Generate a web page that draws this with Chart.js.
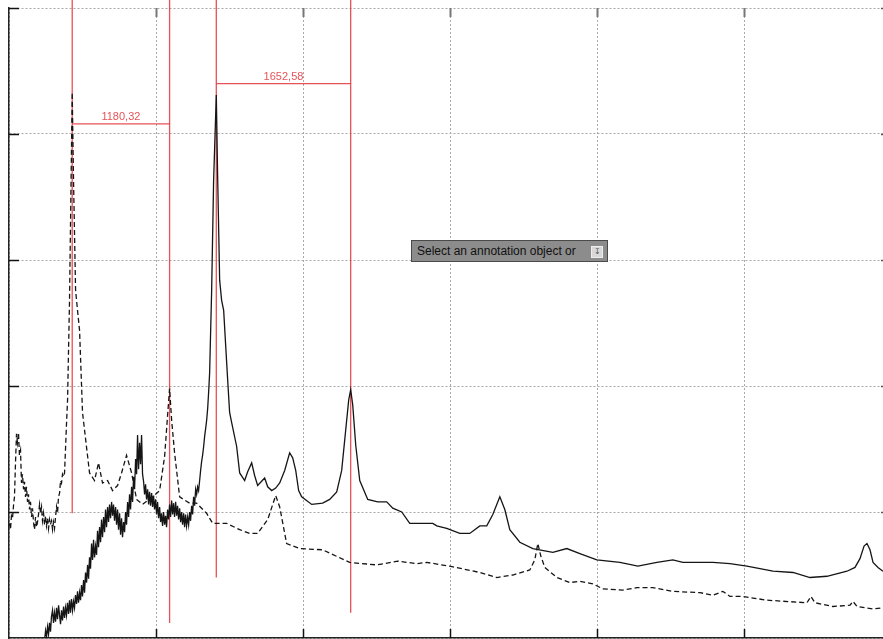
<!DOCTYPE html>
<html lang="en">
<head>
    <meta charset="UTF-8">
    <title>Spectrum</title>
    <script src="https://cdn.jsdelivr.net/npm/chart.js"></script>
    <style>
        body {
            margin: 0;
            background: #fff;
        }

        .wrap {
            position: relative;
            width: 883px;
            height: 639px;
        }

        .hint {
            position: absolute;
            left: 411px;
            top: 240px;
            width: 197px;
            height: 22px;
            background: #8c8c8c;
            border: 1px solid #4a4a4a;
            font: 12px "Liberation Sans", Arial, sans-serif;
            color: #111;
            line-height: 20px;
            padding-left: 5px;
            box-sizing: border-box;
        }

        .hint span {
            position: absolute;
            right: 4px;
            top: 5px;
            width: 10px;
            height: 10px;
            background: #d8d8d8;
            border: 1px solid #eee;
            font-size: 8px;
            line-height: 10px;
            text-align: center;
            color: #555;
        }
    </style>
</head>
<body>
    <div class="wrap">
        <canvas id="spec" width="883" height="639"></canvas>
        <div class="hint">Select an annotation object or<span>&#8615;</span></div>
    </div>

    <script>
        // dashed spectrum
        const dashedX = [6, 18, 30, 43, 55, 67, 80, 92, 104, 116, 128, 141, 153, 165, 178, 190, 202, 214, 227, 239, 251, 263, 276, 288, 300, 312, 325, 337, 349, 361, 374, 386, 398, 410, 423, 435, 447, 459, 472, 484, 496, 508, 521, 533, 545, 557, 570, 582, 594, 606, 619, 631, 643, 655, 668, 680, 692, 704, 717, 741, 760, 774, 790, 815, 839, 864, 900, 925, 986, 1047, 1096, 1145, 1207, 1268, 1329, 1378, 1439, 1501, 1562, 1635, 1758, 1844, 1905, 1942, 1966, 1991, 2027, 2089, 2211, 2297, 2419, 2493, 2664, 2824, 2946, 3044, 3167, 3265, 3314, 3399, 3559, 3840, 4171, 4502, 4759, 4992, 5114, 5396, 5764, 5972, 6168, 6376, 6437, 6474, 6511, 6560, 6707, 6866, 6989, 7148, 7270, 7515, 7687, 7883, 8128, 8459, 8618, 8740, 8826, 8985, 9279, 9769, 9818, 9867, 10088, 10296, 10333, 10382, 10578, 10700];
        const dashedY = [0.91, 0.86, 0.97, 0.95, 1.05, 1.12, 1.40, 1.62, 1.55, 1.63, 1.45, 1.49, 1.23, 1.30, 1.18, 1.24, 1.12, 1.20, 1.08, 1.14, 1.02, 1.08, 0.96, 1.03, 0.92, 0.86, 0.96, 0.88, 0.92, 0.98, 1.06, 0.99, 1.04, 0.93, 0.99, 0.90, 0.97, 0.89, 0.95, 0.87, 0.94, 0.90, 0.93, 0.86, 0.92, 0.87, 0.96, 1.04, 0.99, 1.12, 1.15, 1.25, 1.23, 1.30, 1.28, 1.31, 1.50, 1.70, 1.89, 2.68, 3.63, 4.33, 3.63, 2.76, 2.60, 2.44, 1.79, 1.65, 1.31, 1.25, 1.39, 1.23, 1.25, 1.17, 1.21, 1.31, 1.45, 1.31, 1.10, 1.06, 1.12, 1.17, 1.44, 1.77, 1.98, 1.73, 1.47, 1.12, 1.07, 1.07, 0.99, 0.91, 0.91, 0.86, 0.83, 0.83, 0.94, 1.13, 1.04, 0.75, 0.71, 0.70, 0.60, 0.58, 0.61, 0.59, 0.60, 0.57, 0.52, 0.48, 0.50, 0.54, 0.62, 0.75, 0.65, 0.56, 0.48, 0.44, 0.45, 0.43, 0.39, 0.38, 0.40, 0.40, 0.37, 0.36, 0.34, 0.37, 0.33, 0.33, 0.30, 0.28, 0.33, 0.28, 0.25, 0.26, 0.29, 0.25, 0.23, 0.24];

        // solid spectrum
        const solidX = [435, 448, 460, 472, 484, 496, 508, 520, 533, 545, 557, 570, 582, 594, 607, 619, 631, 643, 655, 668, 680, 692, 704, 716, 729, 741, 753, 765, 778, 790, 802, 814, 827, 839, 851, 864, 876, 888, 900, 913, 925, 937, 950, 962, 974, 986, 998, 1011, 1023, 1035, 1047, 1060, 1072, 1084, 1096, 1109, 1121, 1133, 1145, 1158, 1170, 1182, 1194, 1207, 1219, 1231, 1243, 1256, 1268, 1280, 1292, 1305, 1317, 1329, 1341, 1354, 1366, 1378, 1390, 1403, 1415, 1427, 1439, 1452, 1464, 1476, 1488, 1501, 1513, 1525, 1537, 1550, 1562, 1574, 1586, 1599, 1611, 1623, 1635, 1648, 1660, 1672, 1684, 1697, 1709, 1721, 1733, 1746, 1758, 1770, 1782, 1795, 1807, 1819, 1831, 1844, 1856, 1868, 1880, 1893, 1905, 1917, 1929, 1942, 1954, 1966, 1978, 1991, 2003, 2015, 2027, 2040, 2052, 2064, 2076, 2089, 2101, 2113, 2125, 2138, 2150, 2162, 2174, 2187, 2199, 2211, 2223, 2236, 2248, 2260, 2272, 2285, 2297, 2309, 2321, 2334, 2346, 2358, 2370, 2383, 2395, 2407, 2420, 2432, 2444, 2456, 2481, 2505, 2538, 2554, 2579, 2603, 2628, 2652, 2677, 2701, 2726, 2787, 2824, 2885, 2922, 2971, 3007, 3044, 3130, 3167, 3216, 3265, 3314, 3375, 3436, 3473, 3510, 3546, 3583, 3706, 3840, 3926, 4012, 4073, 4122, 4159, 4183, 4208, 4245, 4294, 4392, 4514, 4624, 4698, 4808, 4906, 5065, 5188, 5237, 5359, 5519, 5641, 5764, 5849, 5923, 6009, 6070, 6131, 6254, 6413, 6658, 6829, 6989, 7197, 7479, 7699, 7932, 8128, 8250, 8618, 8826, 9034, 9353, 9598, 9806, 10014, 10259, 10357, 10418, 10468, 10504, 10541, 10578, 10639, 10700];
        const solidY = [-0.02, 0.06, 0.01, 0.09, 0.03, 0.12, 0.05, 0.17, 0.22, 0.12, 0.20, 0.13, 0.24, 0.15, 0.26, 0.18, 0.11, 0.22, 0.14, 0.25, 0.16, 0.24, 0.18, 0.28, 0.19, 0.30, 0.20, 0.31, 0.22, 0.29, 0.24, 0.34, 0.27, 0.37, 0.28, 0.36, 0.30, 0.42, 0.33, 0.46, 0.36, 0.52, 0.44, 0.58, 0.47, 0.64, 0.55, 0.75, 0.62, 0.78, 0.64, 0.73, 0.66, 0.85, 0.72, 0.88, 0.76, 0.94, 0.80, 0.96, 0.84, 1.02, 0.88, 1.04, 0.92, 1.06, 0.95, 1.08, 0.97, 1.06, 0.93, 1.04, 0.90, 1.02, 0.86, 0.99, 0.82, 0.95, 0.80, 0.92, 0.84, 1.00, 0.90, 1.08, 0.96, 1.14, 1.02, 1.20, 1.08, 1.28, 1.18, 1.42, 1.30, 1.61, 1.34, 1.55, 1.38, 1.61, 1.30, 1.24, 1.14, 1.22, 1.10, 1.18, 1.06, 1.16, 1.05, 1.15, 1.04, 1.13, 1.02, 1.10, 0.98, 1.08, 0.95, 1.04, 0.92, 0.99, 0.89, 1.00, 0.90, 0.97, 0.88, 1.02, 0.94, 1.06, 0.96, 1.09, 0.98, 1.07, 0.96, 1.08, 0.97, 1.05, 0.94, 1.03, 0.92, 1.00, 0.90, 0.99, 0.88, 0.98, 0.89, 0.96, 0.90, 1.00, 0.93, 1.05, 0.98, 1.12, 1.05, 1.18, 1.14, 1.20, 1.17, 1.25, 1.33, 1.40, 1.45, 1.52, 1.60, 1.66, 1.73, 1.82, 1.95, 2.10, 2.76, 3.63, 4.31, 3.67, 2.84, 2.68, 2.60, 2.33, 2.05, 1.79, 1.71, 1.52, 1.31, 1.25, 1.32, 1.39, 1.29, 1.21, 1.27, 1.20, 1.17, 1.19, 1.23, 1.33, 1.47, 1.43, 1.33, 1.17, 1.12, 1.06, 1.07, 1.10, 1.16, 1.33, 1.65, 1.89, 1.97, 1.85, 1.53, 1.25, 1.10, 1.08, 1.08, 1.03, 1.00, 0.91, 0.91, 0.91, 0.89, 0.87, 0.83, 0.83, 0.89, 0.89, 0.98, 1.12, 1.02, 0.86, 0.76, 0.71, 0.68, 0.71, 0.67, 0.62, 0.60, 0.57, 0.60, 0.62, 0.60, 0.60, 0.59, 0.57, 0.53, 0.52, 0.48, 0.49, 0.53, 0.56, 0.63, 0.73, 0.75, 0.70, 0.60, 0.56, 0.53];

        // red cursors and the spans measured between them
        const cursorX = [774, 1966, 2538, 4183];
        const cursorBottom = [0.99, 0.12, 0.48, 0.20];
        const cursorTop = 5.1;
        const spanLevel = [4.08, 4.40];
        const spanLabels = ['1180,32', '1652,58'];

        // axis ticks (labels are not shown on the original)
        const xTicks = [0, 1800, 3600, 5400, 7200, 9000];
        const yTicks = [0, 1, 2, 3, 4, 5];
        const xMax = 10700;

        const red = 'rgba(226, 52, 58, 0.85)';

        const toPoints = (xs, ys) => xs.map((x, i) => ({ x: x, y: ys[i] }));

        const datasets = [
            {
                data: toPoints(solidX, solidY),
                borderColor: '#151515',
                borderWidth: 1.3
            },
            {
                data: toPoints(dashedX, dashedY),
                borderColor: '#151515',
                borderWidth: 1.3,
                borderDash: [5, 3]
            }
        ];

        cursorX.forEach((x, i) => {
            datasets.push({
                data: [{ x: x, y: cursorTop }, { x: x, y: cursorBottom[i] }],
                borderColor: red,
                borderWidth: 1.3,
                clip: false
            });
        });
        spanLevel.forEach((y, i) => {
            datasets.push({
                data: [{ x: cursorX[i * 2], y: y }, { x: cursorX[i * 2 + 1], y: y }],
                borderColor: red,
                borderWidth: 1.3
            });
        });

        // span labels above the red bars
        const spanText = {
            id: 'spanText',
            afterDatasetsDraw(chart) {
                const { ctx, scales: { x, y } } = chart;
                ctx.save();
                ctx.fillStyle = red;
                ctx.font = '11px "Liberation Sans", Arial, sans-serif';
                ctx.textAlign = 'center';
                ctx.textBaseline = 'bottom';
                spanLevel.forEach((lvl, i) => {
                    const mid = (x.getPixelForValue(cursorX[i * 2]) + x.getPixelForValue(cursorX[i * 2 + 1])) / 2;
                    ctx.fillText(spanLabels[i], mid, y.getPixelForValue(lvl) - 1);
                });
                ctx.restore();
            }
        };

        // short tick marks drawn inside the frame
        const innerTicks = {
            id: 'innerTicks',
            afterDraw(chart) {
                const { ctx, chartArea: a, scales: { x, y } } = chart;
                ctx.save();
                x.ticks.forEach(t => {
                    if (t.value === 0) return;
                    const px = Math.round(x.getPixelForValue(t.value)) + 0.5;
                    ctx.lineWidth = 1.5;
                    ctx.strokeStyle = '#111';
                    ctx.beginPath();
                    ctx.moveTo(px, a.bottom);
                    ctx.lineTo(px, a.bottom - 9);
                    ctx.stroke();
                    ctx.strokeStyle = '#777';
                    ctx.lineWidth = 2;
                    ctx.beginPath();
                    ctx.moveTo(px, a.top);
                    ctx.lineTo(px, a.top + 9);
                    ctx.stroke();
                });
                y.ticks.forEach(t => {
                    if (t.value === 0) return;
                    const py = Math.round(y.getPixelForValue(t.value)) + 0.5;
                    ctx.lineWidth = 1.5;
                    ctx.strokeStyle = '#111';
                    ctx.beginPath();
                    ctx.moveTo(a.left, py);
                    ctx.lineTo(a.left + 10, py);
                    ctx.stroke();
                    ctx.strokeStyle = '#555';
                    ctx.beginPath();
                    ctx.moveTo(a.right - 2, py);
                    ctx.lineTo(a.right, py);
                    ctx.stroke();
                });
                ctx.restore();
            }
        };

        const ctx = document.getElementById('spec').getContext('2d');
        const spectrumChart = new Chart(ctx, {
            type: 'line',
            data: { datasets: datasets },
            options: {
                responsive: false,
                animation: false,
                layout: {
                    padding: { left: 9, top: 8, right: 0, bottom: 1 }
                },
                elements: {
                    point: { radius: 0 },
                    line: { tension: 0 }
                },
                plugins: {
                    legend: { display: false },
                    tooltip: { enabled: false }
                },
                scales: {
                    x: {
                        type: 'linear',
                        min: 0,
                        max: xMax,
                        afterBuildTicks: s => { s.ticks = xTicks.map(v => ({ value: v })); },
                        ticks: { display: false },
                        grid: { color: '#a8a8a8', lineWidth: 1, drawTicks: false },
                        border: { display: true, color: '#222', width: 1.5, dash: [2, 2] }
                    },
                    y: {
                        min: 0,
                        max: yTicks[yTicks.length - 1],
                        afterBuildTicks: s => { s.ticks = yTicks.map(v => ({ value: v })); },
                        ticks: { display: false },
                        grid: { color: '#a8a8a8', lineWidth: 1, drawTicks: false },
                        border: { display: true, color: '#222', width: 1.5, dash: [2, 2] }
                    }
                }
            },
            plugins: [spanText, innerTicks]
        });
    </script>
</body>
</html>
